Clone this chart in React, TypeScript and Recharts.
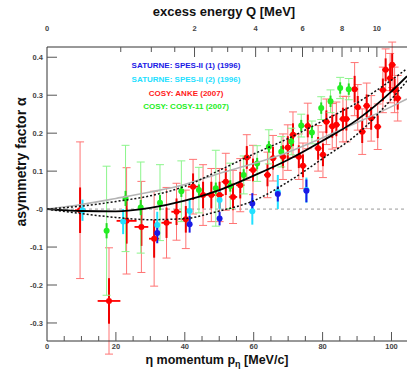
import React from 'react';
import { ComposedChart, Line, Scatter, XAxis, YAxis, ErrorBar, ReferenceLine } from 'recharts';

// ---- kinematics for the top axis (excess energy Q -> eta momentum) ----
const ETA_MASS = 547.86;
const HE3_MASS = 2808.39;
const REDUCED_MASS = (ETA_MASS * HE3_MASS) / (ETA_MASS + HE3_MASS);
const qToP = (q: number) => Math.sqrt(2 * REDUCED_MASS * q);
const pToQ = (p: number) => (p * p) / (2 * REDUCED_MASS);

// ---- axes ----
const P_DOMAIN: [number, number] = [0, 104.5];
const A_DOMAIN: [number, number] = [-0.3475, 0.427];
const pTicks = [0, 5, 10, 15, 20, 25, 30, 35, 40, 45, 50, 55, 60, 65, 70, 75, 80, 85, 90, 95, 100];
const pTickLabels = [0, 20, 40, 60, 80, 100];
const qTicks = [0, 0.5, 1, 1.5, 2, 2.5, 3, 3.5, 4, 4.5, 5, 5.5, 6, 6.5, 7, 7.5, 8, 8.5, 9, 9.5, 10];
const qTickLabels = [0, 2, 4, 6, 8, 10];
const alphaTicks = [-0.3, -0.2, -0.1, 0, 0.1, 0.2, 0.3, 0.4];
const alphaTickLabels = ['-0.3', '-0.2', '-0.1', '-0', '0.1', '0.2', '0.3', '0.4'];

// ---- data: SATURNE SPES-II (1) 1996 ----
const spes1P = [32.0, 41.4, 50.1, 59.6, 67.0, 75.3];
const spes1A = [-0.063, -0.040, -0.025, 0.015, 0.040, 0.048];
const spes1E = [0.027, 0.022, 0.018, 0.027, 0.02, 0.03];

// ---- data: SATURNE SPES-II (2) 1996 ----
const spes2P = [10.3, 22.1, 32.0, 41.4, 50.1, 59.6, 67.0, 75.3];
const spes2A = [-0.003, -0.033, -0.042, -0.005, 0.024, -0.006, 0.045, 0.05];
const spes2E = [0.028, 0.033, 0.035, 0.03, 0.025, 0.035, 0.045, 0.033];

// ---- data: COSY ANKE 2007 ----
const ankeP = [9.6, 18.0, 23.1, 27.4, 31.1, 34.7, 37.6, 40.3, 42.4, 45.3, 47.7, 50.1, 51.9, 54.0, 56.1, 58.0, 59.8, 64.0, 65.6, 68.5, 69.9, 71.4, 73.1, 74.3, 75.7, 78.7, 80.1, 81.1, 82.8, 84.0, 85.9, 86.9, 89.3, 90.2, 91.5, 92.8, 94.1, 96.0, 97.5, 98.3, 99.6, 100.2, 100.9, 101.8];
const ankeA = [-0.003, -0.242, -0.031, -0.047, -0.078, -0.036, -0.007, -0.027, 0.059, 0.037, 0.037, 0.037, 0.072, 0.032, 0.063, 0.136, 0.103, 0.09, 0.134, 0.138, 0.162, 0.196, 0.138, 0.114, 0.219, 0.16, 0.143, 0.23, 0.218, 0.222, 0.237, 0.237, 0.316, 0.268, 0.204, 0.272, 0.239, 0.217, 0.314, 0.367, 0.345, 0.38, 0.314, 0.292];
const ankeE = [0.18, 0.14, 0.14, 0.12, 0.125, 0.093, 0.075, 0.077, 0.072, 0.08, 0.07, 0.07, 0.075, 0.07, 0.07, 0.06, 0.065, 0.06, 0.06, 0.06, 0.06, 0.06, 0.06, 0.06, 0.06, 0.06, 0.06, 0.06, 0.06, 0.06, 0.06, 0.06, 0.07, 0.06, 0.06, 0.06, 0.06, 0.06, 0.06, 0.055, 0.065, 0.06, 0.06, 0.06];
const ankeStat = [0.06, 0.06, 0.06, 0.05, 0.05, 0.04, 0.035, 0.035, 0.035, 0.035, 0.035, 0.035, 0.035, 0.035, 0.035, 0.03, 0.03, 0.03, 0.03, 0.03, 0.03, 0.03, 0.03, 0.03, 0.03, 0.03, 0.03, 0.03, 0.03, 0.03, 0.03, 0.03, 0.035, 0.03, 0.03, 0.03, 0.03, 0.03, 0.03, 0.03, 0.035, 0.03, 0.03, 0.03];
const ankeEx = [1.5, 3.3, 2.9, 2.0, 1.5, 1.5, 1.5, 1.5, 1.5, 1.2, 1.2, 1.2, 1.2, 1.2, 1.2, 1.2, 1.2, 1.0, 1.0, 1.0, 1.0, 1.0, 1.0, 1.0, 1.0, 1.0, 1.0, 1.0, 1.0, 1.0, 1.0, 1.0, 1.0, 1.0, 1.0, 1.0, 1.0, 1.0, 1.0, 1.0, 1.0, 1.0, 1.0, 1.0];

// ---- data: COSY COSY-11 2007 ----
const c11P = [17.3, 22.8, 27.2, 32.8, 39.0, 44.1, 49.0, 53.2, 57.1, 61.0, 64.4, 68.0, 70.9, 73.8, 76.9, 79.6, 82.3, 85.1, 87.6];
const c11A = [-0.057, 0.028, 0.004, 0.017, 0.047, 0.05, 0.055, 0.061, 0.09, 0.12, 0.164, 0.151, 0.178, 0.22, 0.202, 0.266, 0.284, 0.319, 0.316];
const c11E = [0.17, 0.14, 0.12, 0.1, 0.08, 0.06, 0.1, 0.06, 0.05, 0.047, 0.045, 0.04, 0.035, 0.03, 0.03, 0.03, 0.03, 0.028, 0.028];
const c11Stat = [0.02, 0.02, 0.02, 0.02, 0.015, 0.015, 0.015, 0.015, 0.015, 0.015, 0.015, 0.015, 0.015, 0.015, 0.015, 0.015, 0.015, 0.015, 0.015];

// ---- fit curves ----
const fitP = [0, 10, 20, 30, 40, 50, 60, 70, 80, 90, 100, 104.5];
const fitMainA = [0, -0.005, -0.006, 0.003, 0.022, 0.05, 0.088, 0.13, 0.18, 0.235, 0.31, 0.35];
const fitUpperA = [0, 0.008, 0.02, 0.035, 0.06, 0.102, 0.145, 0.186, 0.232, 0.28, 0.34, 0.37];
const fitLowerA = [0, -0.012, -0.022, -0.028, -0.025, -0.005, 0.022, 0.072, 0.133, 0.197, 0.29, 0.338];
const fitGrayA = [0, 0.012, 0.028, 0.045, 0.065, 0.094, 0.12, 0.15, 0.188, 0.228, 0.27, 0.29];

const zip = (p: number[], a: number[]) => p.map((v, i) => ({ p: v, a: a[i] }));
const spes1 = spes1P.map((p, i) => ({ p, a: spes1A[i], e: spes1E[i] }));
const spes2 = spes2P.map((p, i) => ({ p, a: spes2A[i], e: spes2E[i] }));
const anke = ankeP.map((p, i) => ({ p, a: ankeA[i], e: ankeE[i], es: ankeStat[i], ex: ankeEx[i] }));
const c11 = c11P.map((p, i) => ({ p, a: c11A[i], e: c11E[i], es: c11Stat[i] }));
const fitMain = zip(fitP, fitMainA);
const fitUpper = zip(fitP, fitUpperA);
const fitLower = zip(fitP, fitLowerA);
const fitGray = zip(fitP, fitGrayA);

const FONT = '"Liberation Sans", Arial, Helvetica, sans-serif';
const TICK_COLOR = '#444';

const dot = (fill: string, r: number) => (props: any) => {
  if (props.cx == null || props.cy == null) return <g />;
  return <circle cx={props.cx} cy={props.cy} r={r} fill={fill} />;
};

const BottomTick = (props: any) => {
  const { x, y, payload } = props;
  const v = payload.value;
  const major = v % 20 === 0;
  return (
    <g>
      {v !== 0 && <line x1={x} x2={x} y1={y} y2={y - (major ? 9 : 5)} stroke="#555" strokeWidth={1} />}
      {pTickLabels.includes(v) && (
        <text x={x} y={y + 8} textAnchor="middle" fontSize={7.5} fontWeight="bold" fill={TICK_COLOR} fontFamily={FONT}>
          {v}
        </text>
      )}
    </g>
  );
};

const TopTick = (props: any) => {
  const { x, y, payload } = props;
  const q = Math.round(pToQ(payload.value) * 2) / 2;
  const major = q % 2 === 0;
  return (
    <g>
      {q !== 0 && <line x1={x} x2={x} y1={y} y2={y + (major ? 10 : 5)} stroke="#555" strokeWidth={1} />}
      {qTickLabels.includes(q) && (
        <text x={x} y={y - 16} textAnchor="middle" fontSize={7.5} fontWeight="bold" fill={TICK_COLOR} fontFamily={FONT}>
          {q}
        </text>
      )}
    </g>
  );
};

const LeftTick = (props: any) => {
  const { x, y, payload } = props;
  const idx = alphaTicks.findIndex((t) => Math.abs(t - payload.value) < 1e-9);
  return (
    <g>
      <line x1={x} x2={x + 10} y1={y} y2={y} stroke="#555" strokeWidth={1} />
      <text x={x - 4} y={y + 3} textAnchor="end" fontSize={7.5} fontWeight="bold" fill={TICK_COLOR} fontFamily={FONT}>
        {idx >= 0 ? alphaTickLabels[idx] : ''}
      </text>
    </g>
  );
};

const legend = [
  { text: 'SATURNE: SPES-II (1) (1996)', color: '#1a1ae6', y: 67.5 },
  { text: 'SATURNE: SPES-II (2) (1996)', color: '#22e0ff', y: 82 },
  { text: 'COSY: ANKE (2007)', color: '#ff1a1a', y: 96 },
  { text: 'COSY: COSY-11 (2007)', color: '#22ee22', y: 109 },
];

export default function App() {
  return (
    <div style={{ position: 'absolute', left: 0, top: 0, width: 410, height: 372, background: '#fff' }}>
      <ComposedChart width={410} height={372} margin={{ top: 0, right: 3, bottom: 0, left: 0 }}>
        <XAxis
          xAxisId="p"
          dataKey="p"
          type="number"
          orientation="bottom"
          domain={P_DOMAIN}
          allowDataOverflow
          ticks={pTicks}
          interval={0}
          height={31}
          tickSize={0}
          tickMargin={0}
          tick={<BottomTick />}
          axisLine={{ stroke: '#333', strokeWidth: 1 }}
          tickLine={false}
        />
        <XAxis
          xAxisId="q"
          dataKey="p"
          type="number"
          orientation="top"
          domain={P_DOMAIN}
          allowDataOverflow
          ticks={qTicks.map(qToP)}
          interval={0}
          height={47}
          tickSize={0}
          tickMargin={0}
          tick={<TopTick />}
          axisLine={{ stroke: '#333', strokeWidth: 1 }}
          tickLine={false}
        />
        <YAxis
          yAxisId="a"
          dataKey="a"
          type="number"
          domain={A_DOMAIN}
          allowDataOverflow
          ticks={alphaTicks}
          interval={0}
          width={47}
          tickSize={0}
          tickMargin={0}
          tick={<LeftTick />}
          axisLine={{ stroke: '#333', strokeWidth: 1 }}
          tickLine={false}
        />
        <ReferenceLine xAxisId="p" yAxisId="a" y={0} stroke="#999" strokeDasharray="3 3" strokeWidth={1} />

        <Scatter data={anke} xAxisId="p" yAxisId="a" dataKey="a" shape={dot('#ff0000', 3)} isAnimationActive={false}>
          <ErrorBar dataKey="e" direction="y" width={4} stroke="#ff7474" strokeWidth={1} isAnimationActive={false} />
          <ErrorBar dataKey="es" direction="y" width={0} stroke="#f00000" strokeWidth={2} isAnimationActive={false} />
          <ErrorBar dataKey="ex" direction="x" width={0} stroke="#ff0000" strokeWidth={1.8} isAnimationActive={false} />
        </Scatter>
        <Scatter data={c11} xAxisId="p" yAxisId="a" dataKey="a" shape={dot('#22ee22', 3)} isAnimationActive={false}>
          <ErrorBar dataKey="e" direction="y" width={4} stroke="#8cf58c" strokeWidth={1} isAnimationActive={false} />
          <ErrorBar dataKey="es" direction="y" width={0} stroke="#22dd22" strokeWidth={2} isAnimationActive={false} />
        </Scatter>
        <Scatter data={spes2} xAxisId="p" yAxisId="a" dataKey="a" shape={dot('#22e0ff', 3)} isAnimationActive={false}>
          <ErrorBar dataKey="e" direction="y" width={0} stroke="#22e0ff" strokeWidth={2} isAnimationActive={false} />
        </Scatter>
        <Scatter data={spes1} xAxisId="p" yAxisId="a" dataKey="a" shape={dot('#1a1ae6', 3)} isAnimationActive={false}>
          <ErrorBar dataKey="e" direction="y" width={0} stroke="#1a1ae6" strokeWidth={2} isAnimationActive={false} />
        </Scatter>

        <Line data={fitGray} xAxisId="q" yAxisId="a" dataKey="a" type="monotone" dot={false} stroke="#b4b4b4" strokeWidth={1.6} isAnimationActive={false} zIndex={700} />
        <Line data={fitUpper} xAxisId="p" yAxisId="a" dataKey="a" type="monotone" dot={false} stroke="#111" strokeWidth={1.5} strokeDasharray="2 2" isAnimationActive={false} zIndex={700} />
        <Line data={fitLower} xAxisId="p" yAxisId="a" dataKey="a" type="monotone" dot={false} stroke="#111" strokeWidth={1.5} strokeDasharray="2 2" isAnimationActive={false} zIndex={700} />
        <Line data={fitMain} xAxisId="p" yAxisId="a" dataKey="a" type="monotone" dot={false} stroke="#000" strokeWidth={1.8} isAnimationActive={false} zIndex={700} />
      </ComposedChart>
      <svg width={410} height={372} style={{ position: 'absolute', left: 0, top: 0, pointerEvents: 'none' }}>
        <text x={224} y={16} textAnchor="middle" fontSize={13} fontWeight="bold" fill="#111" fontFamily={FONT}>
          excess energy Q [MeV]
        </text>
        <text x={217} y={363.5} textAnchor="middle" fontSize={12.5} fontWeight="bold" fill="#111" fontFamily={FONT}>
          η momentum p<tspan fontSize={9} dy={3}>η</tspan><tspan dy={-3}> [MeV/c]</tspan>
        </text>
        <text x={26} y={162} textAnchor="middle" fontSize={14} fontWeight="bold" fill="#111" fontFamily={FONT} transform="rotate(-90 26 162)">
          asymmetry factor α
        </text>
        {legend.map((l) => (
          <text key={l.text} x={186} y={l.y} textAnchor="middle" fontSize={8} fontWeight="bold" fill={l.color} fontFamily={FONT}>
            {l.text}
          </text>
        ))}
      </svg>
    </div>
  );
}
